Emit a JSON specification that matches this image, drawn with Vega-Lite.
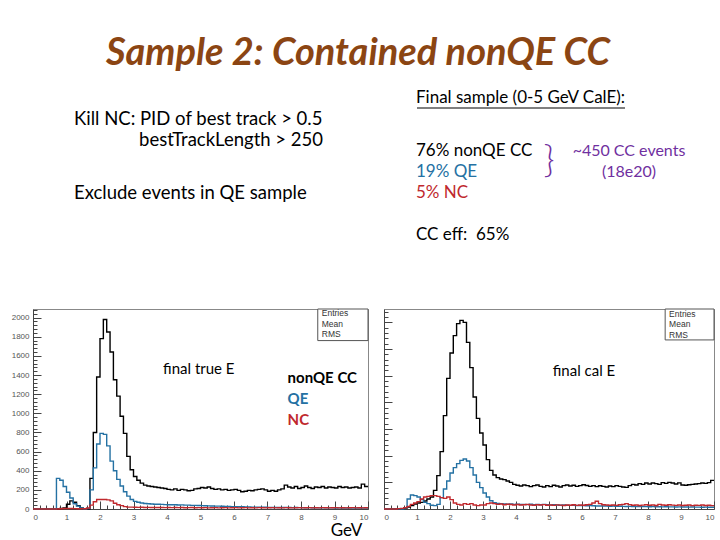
{
"$schema": "https://vega.github.io/schema/vega-lite/v6.json",
"background": "white",
"padding": {"left": 10, "top": 35, "right": 5, "bottom": 5},
"bounds": "flush",
"spacing": 74,
"config": {"font": "Lato", "view": {"stroke": "#888", "strokeWidth": 1}, "axis": {"labelFont": "Liberation Sans", "labelFontSize": 8, "labelColor": "#555", "domainColor": "#444", "tickColor": "#444", "grid": false}},
"title": {"text": "Sample 2: Contained nonQE CC", "font": "Lato", "fontSize": 38, "fontWeight": "bold", "fontStyle": "italic", "color": "#8B4513", "anchor": "middle", "dx": -6, "offset": 16},
"datasets": {
"slide": [
{"block":"cuts","part":"main","row":2,"kind":"text","text":"Kill NC: PID of best track > 0.5"},
{"block":"cuts","part":"cont","row":4,"kind":"text","text":"bestTrackLength > 250"},
{"block":"cuts","part":"main","row":9,"kind":"text","text":"Exclude events in QE sample"},
{"block":"sample","part":"head","row":0,"kind":"text","text":"Final sample (0-5 GeV CalE):"},
{"block":"sample","part":"main","row":5,"kind":"CC","text":"76% nonQE CC"},
{"block":"sample","part":"main","row":7,"kind":"QE","text":"19% QE"},
{"block":"sample","part":"main","row":9,"kind":"NC","text":"5% NC"},
{"block":"sample","part":"main","row":13,"kind":"text","text":"CC eff:\u00a0 65%"},
{"block":"sample","part":"brace","row":6,"kind":"note","text":"}"},
{"block":"sample","part":"note","row":5,"kind":"note","text":"~450 CC events"},
{"block":"sample","part":"note","row":7,"kind":"note","text":"(18e20)"}
],
"trueE": [
{"kind":"CC","E":0,"n":0},{"kind":"CC","E":0.1,"n":0},{"kind":"CC","E":0.2,"n":0},{"kind":"CC","E":0.3,"n":0},{"kind":"CC","E":0.4,"n":0},{"kind":"CC","E":0.5,"n":0},{"kind":"CC","E":0.6,"n":0},{"kind":"CC","E":0.7,"n":0},{"kind":"CC","E":0.8,"n":5},{"kind":"CC","E":0.9,"n":10},
{"kind":"CC","E":1.0,"n":50},{"kind":"CC","E":1.1,"n":85},{"kind":"CC","E":1.2,"n":70},{"kind":"CC","E":1.3,"n":35},{"kind":"CC","E":1.4,"n":10},{"kind":"CC","E":1.5,"n":0},{"kind":"CC","E":1.6,"n":0},{"kind":"CC","E":1.7,"n":320},{"kind":"CC","E":1.8,"n":800},{"kind":"CC","E":1.9,"n":1380},
{"kind":"CC","E":2.0,"n":1780},{"kind":"CC","E":2.1,"n":1980},{"kind":"CC","E":2.2,"n":1850},{"kind":"CC","E":2.3,"n":1640},{"kind":"CC","E":2.4,"n":1350},{"kind":"CC","E":2.5,"n":1180},{"kind":"CC","E":2.6,"n":970},{"kind":"CC","E":2.7,"n":790},{"kind":"CC","E":2.8,"n":550},{"kind":"CC","E":2.9,"n":410},
{"kind":"CC","E":3.0,"n":340},{"kind":"CC","E":3.1,"n":300},{"kind":"CC","E":3.2,"n":270},{"kind":"CC","E":3.3,"n":250},{"kind":"CC","E":3.4,"n":240},{"kind":"CC","E":3.5,"n":235},{"kind":"CC","E":3.6,"n":230},{"kind":"CC","E":3.7,"n":225},{"kind":"CC","E":3.8,"n":220},{"kind":"CC","E":3.9,"n":215},
{"kind":"CC","E":4.0,"n":205},{"kind":"CC","E":4.1,"n":200},{"kind":"CC","E":4.2,"n":210},{"kind":"CC","E":4.3,"n":195},{"kind":"CC","E":4.4,"n":205},{"kind":"CC","E":4.5,"n":200},{"kind":"CC","E":4.6,"n":190},{"kind":"CC","E":4.7,"n":195},{"kind":"CC","E":4.8,"n":210},{"kind":"CC","E":4.9,"n":215},
{"kind":"CC","E":5.0,"n":225},{"kind":"CC","E":5.1,"n":220},{"kind":"CC","E":5.2,"n":230},{"kind":"CC","E":5.3,"n":215},{"kind":"CC","E":5.4,"n":205},{"kind":"CC","E":5.5,"n":210},{"kind":"CC","E":5.6,"n":200},{"kind":"CC","E":5.7,"n":205},{"kind":"CC","E":5.8,"n":195},{"kind":"CC","E":5.9,"n":200},
{"kind":"CC","E":6.0,"n":205},{"kind":"CC","E":6.1,"n":195},{"kind":"CC","E":6.2,"n":180},{"kind":"CC","E":6.3,"n":185},{"kind":"CC","E":6.4,"n":195},{"kind":"CC","E":6.5,"n":190},{"kind":"CC","E":6.6,"n":200},{"kind":"CC","E":6.7,"n":205},{"kind":"CC","E":6.8,"n":210},{"kind":"CC","E":6.9,"n":200},
{"kind":"CC","E":7.0,"n":185},{"kind":"CC","E":7.1,"n":195},{"kind":"CC","E":7.2,"n":185},{"kind":"CC","E":7.3,"n":200},{"kind":"CC","E":7.4,"n":210},{"kind":"CC","E":7.5,"n":250},{"kind":"CC","E":7.6,"n":230},{"kind":"CC","E":7.7,"n":220},{"kind":"CC","E":7.8,"n":235},{"kind":"CC","E":7.9,"n":215},
{"kind":"CC","E":8.0,"n":225},{"kind":"CC","E":8.1,"n":240},{"kind":"CC","E":8.2,"n":225},{"kind":"CC","E":8.3,"n":215},{"kind":"CC","E":8.4,"n":230},{"kind":"CC","E":8.5,"n":225},{"kind":"CC","E":8.6,"n":235},{"kind":"CC","E":8.7,"n":220},{"kind":"CC","E":8.8,"n":230},{"kind":"CC","E":8.9,"n":225},
{"kind":"CC","E":9.0,"n":220},{"kind":"CC","E":9.1,"n":235},{"kind":"CC","E":9.2,"n":225},{"kind":"CC","E":9.3,"n":230},{"kind":"CC","E":9.4,"n":220},{"kind":"CC","E":9.5,"n":225},{"kind":"CC","E":9.6,"n":230},{"kind":"CC","E":9.7,"n":220},{"kind":"CC","E":9.8,"n":260},{"kind":"CC","E":9.9,"n":235},{"kind":"CC","E":10.0,"n":235},
{"kind":"QE","E":0,"n":0},{"kind":"QE","E":0.1,"n":0},{"kind":"QE","E":0.2,"n":0},{"kind":"QE","E":0.3,"n":0},{"kind":"QE","E":0.4,"n":0},{"kind":"QE","E":0.5,"n":0},{"kind":"QE","E":0.6,"n":0},{"kind":"QE","E":0.7,"n":320},{"kind":"QE","E":0.8,"n":300},{"kind":"QE","E":0.9,"n":235},
{"kind":"QE","E":1.0,"n":175},{"kind":"QE","E":1.1,"n":115},{"kind":"QE","E":1.2,"n":55},{"kind":"QE","E":1.3,"n":30},{"kind":"QE","E":1.4,"n":10},{"kind":"QE","E":1.5,"n":0},{"kind":"QE","E":1.6,"n":5},{"kind":"QE","E":1.7,"n":200},{"kind":"QE","E":1.8,"n":430},{"kind":"QE","E":1.9,"n":680},
{"kind":"QE","E":2.0,"n":790},{"kind":"QE","E":2.1,"n":780},{"kind":"QE","E":2.2,"n":660},{"kind":"QE","E":2.3,"n":500},{"kind":"QE","E":2.4,"n":400},{"kind":"QE","E":2.5,"n":310},{"kind":"QE","E":2.6,"n":240},{"kind":"QE","E":2.7,"n":180},{"kind":"QE","E":2.8,"n":135},{"kind":"QE","E":2.9,"n":100},
{"kind":"QE","E":3.0,"n":80},{"kind":"QE","E":3.1,"n":70},{"kind":"QE","E":3.2,"n":62},{"kind":"QE","E":3.3,"n":58},{"kind":"QE","E":3.4,"n":55},{"kind":"QE","E":3.5,"n":52},{"kind":"QE","E":3.6,"n":50},{"kind":"QE","E":3.7,"n":50},{"kind":"QE","E":3.8,"n":48},{"kind":"QE","E":3.9,"n":46},
{"kind":"QE","E":4.0,"n":45},{"kind":"QE","E":4.1,"n":44},{"kind":"QE","E":4.2,"n":45},{"kind":"QE","E":4.3,"n":42},{"kind":"QE","E":4.4,"n":43},{"kind":"QE","E":4.5,"n":40},{"kind":"QE","E":4.6,"n":40},{"kind":"QE","E":4.7,"n":38},{"kind":"QE","E":4.8,"n":38},{"kind":"QE","E":4.9,"n":36},
{"kind":"QE","E":5.0,"n":35},{"kind":"QE","E":5.1,"n":34},{"kind":"QE","E":5.2,"n":33},{"kind":"QE","E":5.3,"n":32},{"kind":"QE","E":5.4,"n":30},{"kind":"QE","E":5.5,"n":30},{"kind":"QE","E":5.6,"n":28},{"kind":"QE","E":5.7,"n":27},{"kind":"QE","E":5.8,"n":27},{"kind":"QE","E":5.9,"n":25},
{"kind":"QE","E":6.0,"n":25},{"kind":"QE","E":6.1,"n":23},{"kind":"QE","E":6.2,"n":24},{"kind":"QE","E":6.3,"n":22},{"kind":"QE","E":6.4,"n":22},{"kind":"QE","E":6.5,"n":20},{"kind":"QE","E":6.6,"n":20},{"kind":"QE","E":6.7,"n":19},{"kind":"QE","E":6.8,"n":18},{"kind":"QE","E":6.9,"n":18},
{"kind":"QE","E":7.0,"n":17},{"kind":"QE","E":7.1,"n":16},{"kind":"QE","E":7.2,"n":17},{"kind":"QE","E":7.3,"n":15},{"kind":"QE","E":7.4,"n":16},{"kind":"QE","E":7.5,"n":15},{"kind":"QE","E":7.6,"n":15},{"kind":"QE","E":7.7,"n":14},{"kind":"QE","E":7.8,"n":15},{"kind":"QE","E":7.9,"n":14},
{"kind":"QE","E":8.0,"n":14},{"kind":"QE","E":8.1,"n":13},{"kind":"QE","E":8.2,"n":14},{"kind":"QE","E":8.3,"n":13},{"kind":"QE","E":8.4,"n":13},{"kind":"QE","E":8.5,"n":12},{"kind":"QE","E":8.6,"n":13},{"kind":"QE","E":8.7,"n":12},{"kind":"QE","E":8.8,"n":12},{"kind":"QE","E":8.9,"n":12},
{"kind":"QE","E":9.0,"n":11},{"kind":"QE","E":9.1,"n":12},{"kind":"QE","E":9.2,"n":11},{"kind":"QE","E":9.3,"n":11},{"kind":"QE","E":9.4,"n":10},{"kind":"QE","E":9.5,"n":11},{"kind":"QE","E":9.6,"n":10},{"kind":"QE","E":9.7,"n":10},{"kind":"QE","E":9.8,"n":10},{"kind":"QE","E":9.9,"n":10},{"kind":"QE","E":10.0,"n":10},
{"kind":"NC","E":0,"n":0},{"kind":"NC","E":0.1,"n":0},{"kind":"NC","E":0.2,"n":0},{"kind":"NC","E":0.3,"n":0},{"kind":"NC","E":0.4,"n":0},{"kind":"NC","E":0.5,"n":0},{"kind":"NC","E":0.6,"n":0},{"kind":"NC","E":0.7,"n":0},{"kind":"NC","E":0.8,"n":3},{"kind":"NC","E":0.9,"n":5},
{"kind":"NC","E":1.0,"n":5},{"kind":"NC","E":1.1,"n":5},{"kind":"NC","E":1.2,"n":4},{"kind":"NC","E":1.3,"n":3},{"kind":"NC","E":1.4,"n":2},{"kind":"NC","E":1.5,"n":3},{"kind":"NC","E":1.6,"n":10},{"kind":"NC","E":1.7,"n":40},{"kind":"NC","E":1.8,"n":75},{"kind":"NC","E":1.9,"n":100},
{"kind":"NC","E":2.0,"n":100},{"kind":"NC","E":2.1,"n":100},{"kind":"NC","E":2.2,"n":95},{"kind":"NC","E":2.3,"n":85},{"kind":"NC","E":2.4,"n":60},{"kind":"NC","E":2.5,"n":45},{"kind":"NC","E":2.6,"n":35},{"kind":"NC","E":2.7,"n":25},{"kind":"NC","E":2.8,"n":20},{"kind":"NC","E":2.9,"n":20},
{"kind":"NC","E":3.0,"n":18},{"kind":"NC","E":3.1,"n":17},{"kind":"NC","E":3.2,"n":18},{"kind":"NC","E":3.3,"n":16},{"kind":"NC","E":3.4,"n":17},{"kind":"NC","E":3.5,"n":15},{"kind":"NC","E":3.6,"n":16},{"kind":"NC","E":3.7,"n":15},{"kind":"NC","E":3.8,"n":16},{"kind":"NC","E":3.9,"n":14},
{"kind":"NC","E":4.0,"n":15},{"kind":"NC","E":4.1,"n":14},{"kind":"NC","E":4.2,"n":15},{"kind":"NC","E":4.3,"n":14},{"kind":"NC","E":4.4,"n":15},{"kind":"NC","E":4.5,"n":13},{"kind":"NC","E":4.6,"n":14},{"kind":"NC","E":4.7,"n":15},{"kind":"NC","E":4.8,"n":13},{"kind":"NC","E":4.9,"n":14},
{"kind":"NC","E":5.0,"n":13},{"kind":"NC","E":5.1,"n":14},{"kind":"NC","E":5.2,"n":12},{"kind":"NC","E":5.3,"n":13},{"kind":"NC","E":5.4,"n":14},{"kind":"NC","E":5.5,"n":12},{"kind":"NC","E":5.6,"n":13},{"kind":"NC","E":5.7,"n":14},{"kind":"NC","E":5.8,"n":12},{"kind":"NC","E":5.9,"n":13},
{"kind":"NC","E":6.0,"n":14},{"kind":"NC","E":6.1,"n":12},{"kind":"NC","E":6.2,"n":13},{"kind":"NC","E":6.3,"n":14},{"kind":"NC","E":6.4,"n":12},{"kind":"NC","E":6.5,"n":13},{"kind":"NC","E":6.6,"n":12},{"kind":"NC","E":6.7,"n":14},{"kind":"NC","E":6.8,"n":13},{"kind":"NC","E":6.9,"n":12},
{"kind":"NC","E":7.0,"n":13},{"kind":"NC","E":7.1,"n":14},{"kind":"NC","E":7.2,"n":12},{"kind":"NC","E":7.3,"n":13},{"kind":"NC","E":7.4,"n":12},{"kind":"NC","E":7.5,"n":14},{"kind":"NC","E":7.6,"n":13},{"kind":"NC","E":7.7,"n":12},{"kind":"NC","E":7.8,"n":13},{"kind":"NC","E":7.9,"n":14},
{"kind":"NC","E":8.0,"n":12},{"kind":"NC","E":8.1,"n":13},{"kind":"NC","E":8.2,"n":14},{"kind":"NC","E":8.3,"n":12},{"kind":"NC","E":8.4,"n":13},{"kind":"NC","E":8.5,"n":12},{"kind":"NC","E":8.6,"n":14},{"kind":"NC","E":8.7,"n":13},{"kind":"NC","E":8.8,"n":12},{"kind":"NC","E":8.9,"n":13},
{"kind":"NC","E":9.0,"n":14},{"kind":"NC","E":9.1,"n":12},{"kind":"NC","E":9.2,"n":13},{"kind":"NC","E":9.3,"n":12},{"kind":"NC","E":9.4,"n":13},{"kind":"NC","E":9.5,"n":14},{"kind":"NC","E":9.6,"n":12},{"kind":"NC","E":9.7,"n":13},{"kind":"NC","E":9.8,"n":12},{"kind":"NC","E":9.9,"n":13},{"kind":"NC","E":10.0,"n":13}
],
"calE": [
{"kind":"CC","E":0,"n":0},{"kind":"CC","E":0.1,"n":0},{"kind":"CC","E":0.2,"n":0},{"kind":"CC","E":0.3,"n":0},{"kind":"CC","E":0.4,"n":0},{"kind":"CC","E":0.5,"n":3},{"kind":"CC","E":0.6,"n":8},{"kind":"CC","E":0.7,"n":15},{"kind":"CC","E":0.8,"n":25},{"kind":"CC","E":0.9,"n":38},
{"kind":"CC","E":1.0,"n":45},{"kind":"CC","E":1.1,"n":50},{"kind":"CC","E":1.2,"n":60},{"kind":"CC","E":1.3,"n":75},{"kind":"CC","E":1.4,"n":90},{"kind":"CC","E":1.5,"n":140},{"kind":"CC","E":1.6,"n":250},{"kind":"CC","E":1.7,"n":430},{"kind":"CC","E":1.8,"n":700},{"kind":"CC","E":1.9,"n":980},
{"kind":"CC","E":2.0,"n":1170},{"kind":"CC","E":2.1,"n":1300},{"kind":"CC","E":2.2,"n":1390},{"kind":"CC","E":2.3,"n":1415},{"kind":"CC","E":2.4,"n":1400},{"kind":"CC","E":2.5,"n":1250},{"kind":"CC","E":2.6,"n":1060},{"kind":"CC","E":2.7,"n":840},{"kind":"CC","E":2.8,"n":680},{"kind":"CC","E":2.9,"n":570},
{"kind":"CC","E":3.0,"n":480},{"kind":"CC","E":3.1,"n":370},{"kind":"CC","E":3.2,"n":290},{"kind":"CC","E":3.3,"n":255},{"kind":"CC","E":3.4,"n":235},{"kind":"CC","E":3.5,"n":225},{"kind":"CC","E":3.6,"n":220},{"kind":"CC","E":3.7,"n":210},{"kind":"CC","E":3.8,"n":200},{"kind":"CC","E":3.9,"n":185},
{"kind":"CC","E":4.0,"n":178},{"kind":"CC","E":4.1,"n":172},{"kind":"CC","E":4.2,"n":180},{"kind":"CC","E":4.3,"n":175},{"kind":"CC","E":4.4,"n":168},{"kind":"CC","E":4.5,"n":175},{"kind":"CC","E":4.6,"n":180},{"kind":"CC","E":4.7,"n":170},{"kind":"CC","E":4.8,"n":165},{"kind":"CC","E":4.9,"n":175},
{"kind":"CC","E":5.0,"n":168},{"kind":"CC","E":5.1,"n":178},{"kind":"CC","E":5.2,"n":172},{"kind":"CC","E":5.3,"n":165},{"kind":"CC","E":5.4,"n":175},{"kind":"CC","E":5.5,"n":180},{"kind":"CC","E":5.6,"n":172},{"kind":"CC","E":5.7,"n":178},{"kind":"CC","E":5.8,"n":170},{"kind":"CC","E":5.9,"n":175},
{"kind":"CC","E":6.0,"n":182},{"kind":"CC","E":6.1,"n":176},{"kind":"CC","E":6.2,"n":170},{"kind":"CC","E":6.3,"n":175},{"kind":"CC","E":6.4,"n":168},{"kind":"CC","E":6.5,"n":174},{"kind":"CC","E":6.6,"n":170},{"kind":"CC","E":6.7,"n":165},{"kind":"CC","E":6.8,"n":172},{"kind":"CC","E":6.9,"n":168},
{"kind":"CC","E":7.0,"n":175},{"kind":"CC","E":7.1,"n":170},{"kind":"CC","E":7.2,"n":165},{"kind":"CC","E":7.3,"n":162},{"kind":"CC","E":7.4,"n":175},{"kind":"CC","E":7.5,"n":185},{"kind":"CC","E":7.6,"n":180},{"kind":"CC","E":7.7,"n":190},{"kind":"CC","E":7.8,"n":185},{"kind":"CC","E":7.9,"n":195},
{"kind":"CC","E":8.0,"n":188},{"kind":"CC","E":8.1,"n":195},{"kind":"CC","E":8.2,"n":190},{"kind":"CC","E":8.3,"n":185},{"kind":"CC","E":8.4,"n":198},{"kind":"CC","E":8.5,"n":192},{"kind":"CC","E":8.6,"n":200},{"kind":"CC","E":8.7,"n":195},{"kind":"CC","E":8.8,"n":188},{"kind":"CC","E":8.9,"n":196},
{"kind":"CC","E":9.0,"n":180},{"kind":"CC","E":9.1,"n":178},{"kind":"CC","E":9.2,"n":182},{"kind":"CC","E":9.3,"n":185},{"kind":"CC","E":9.4,"n":188},{"kind":"CC","E":9.5,"n":190},{"kind":"CC","E":9.6,"n":195},{"kind":"CC","E":9.7,"n":192},{"kind":"CC","E":9.8,"n":198},{"kind":"CC","E":9.9,"n":215},{"kind":"CC","E":10.0,"n":215},
{"kind":"QE","E":0,"n":0},{"kind":"QE","E":0.1,"n":0},{"kind":"QE","E":0.2,"n":0},{"kind":"QE","E":0.3,"n":0},{"kind":"QE","E":0.4,"n":0},{"kind":"QE","E":0.5,"n":0},{"kind":"QE","E":0.6,"n":10},{"kind":"QE","E":0.7,"n":75},{"kind":"QE","E":0.8,"n":105},{"kind":"QE","E":0.9,"n":100},
{"kind":"QE","E":1.0,"n":90},{"kind":"QE","E":1.1,"n":70},{"kind":"QE","E":1.2,"n":50},{"kind":"QE","E":1.3,"n":40},{"kind":"QE","E":1.4,"n":28},{"kind":"QE","E":1.5,"n":25},{"kind":"QE","E":1.6,"n":35},{"kind":"QE","E":1.7,"n":85},{"kind":"QE","E":1.8,"n":150},{"kind":"QE","E":1.9,"n":210},
{"kind":"QE","E":2.0,"n":270},{"kind":"QE","E":2.1,"n":310},{"kind":"QE","E":2.2,"n":340},{"kind":"QE","E":2.3,"n":365},{"kind":"QE","E":2.4,"n":375},{"kind":"QE","E":2.5,"n":360},{"kind":"QE","E":2.6,"n":310},{"kind":"QE","E":2.7,"n":255},{"kind":"QE","E":2.8,"n":200},{"kind":"QE","E":2.9,"n":160},
{"kind":"QE","E":3.0,"n":120},{"kind":"QE","E":3.1,"n":90},{"kind":"QE","E":3.2,"n":62},{"kind":"QE","E":3.3,"n":48},{"kind":"QE","E":3.4,"n":42},{"kind":"QE","E":3.5,"n":40},{"kind":"QE","E":3.6,"n":38},{"kind":"QE","E":3.7,"n":36},{"kind":"QE","E":3.8,"n":38},{"kind":"QE","E":3.9,"n":35},
{"kind":"QE","E":4.0,"n":36},{"kind":"QE","E":4.1,"n":34},{"kind":"QE","E":4.2,"n":35},{"kind":"QE","E":4.3,"n":33},{"kind":"QE","E":4.4,"n":36},{"kind":"QE","E":4.5,"n":32},{"kind":"QE","E":4.6,"n":34},{"kind":"QE","E":4.7,"n":32},{"kind":"QE","E":4.8,"n":35},{"kind":"QE","E":4.9,"n":33},
{"kind":"QE","E":5.0,"n":30},{"kind":"QE","E":5.1,"n":32},{"kind":"QE","E":5.2,"n":30},{"kind":"QE","E":5.3,"n":28},{"kind":"QE","E":5.4,"n":30},{"kind":"QE","E":5.5,"n":28},{"kind":"QE","E":5.6,"n":27},{"kind":"QE","E":5.7,"n":28},{"kind":"QE","E":5.8,"n":26},{"kind":"QE","E":5.9,"n":25},
{"kind":"QE","E":6.0,"n":26},{"kind":"QE","E":6.1,"n":24},{"kind":"QE","E":6.2,"n":25},{"kind":"QE","E":6.3,"n":24},{"kind":"QE","E":6.4,"n":23},{"kind":"QE","E":6.5,"n":22},{"kind":"QE","E":6.6,"n":23},{"kind":"QE","E":6.7,"n":22},{"kind":"QE","E":6.8,"n":21},{"kind":"QE","E":6.9,"n":22},
{"kind":"QE","E":7.0,"n":20},{"kind":"QE","E":7.1,"n":21},{"kind":"QE","E":7.2,"n":20},{"kind":"QE","E":7.3,"n":19},{"kind":"QE","E":7.4,"n":20},{"kind":"QE","E":7.5,"n":19},{"kind":"QE","E":7.6,"n":18},{"kind":"QE","E":7.7,"n":19},{"kind":"QE","E":7.8,"n":18},{"kind":"QE","E":7.9,"n":18},
{"kind":"QE","E":8.0,"n":17},{"kind":"QE","E":8.1,"n":18},{"kind":"QE","E":8.2,"n":17},{"kind":"QE","E":8.3,"n":17},{"kind":"QE","E":8.4,"n":16},{"kind":"QE","E":8.5,"n":17},{"kind":"QE","E":8.6,"n":16},{"kind":"QE","E":8.7,"n":16},{"kind":"QE","E":8.8,"n":15},{"kind":"QE","E":8.9,"n":16},
{"kind":"QE","E":9.0,"n":15},{"kind":"QE","E":9.1,"n":15},{"kind":"QE","E":9.2,"n":14},{"kind":"QE","E":9.3,"n":15},{"kind":"QE","E":9.4,"n":14},{"kind":"QE","E":9.5,"n":14},{"kind":"QE","E":9.6,"n":13},{"kind":"QE","E":9.7,"n":14},{"kind":"QE","E":9.8,"n":13},{"kind":"QE","E":9.9,"n":13},{"kind":"QE","E":10.0,"n":13},
{"kind":"NC","E":0,"n":0},{"kind":"NC","E":0.1,"n":0},{"kind":"NC","E":0.2,"n":0},{"kind":"NC","E":0.3,"n":0},{"kind":"NC","E":0.4,"n":3},{"kind":"NC","E":0.5,"n":5},{"kind":"NC","E":0.6,"n":10},{"kind":"NC","E":0.7,"n":20},{"kind":"NC","E":0.8,"n":35},{"kind":"NC","E":0.9,"n":45},
{"kind":"NC","E":1.0,"n":55},{"kind":"NC","E":1.1,"n":75},{"kind":"NC","E":1.2,"n":90},{"kind":"NC","E":1.3,"n":95},{"kind":"NC","E":1.4,"n":100},{"kind":"NC","E":1.5,"n":100},{"kind":"NC","E":1.6,"n":95},{"kind":"NC","E":1.7,"n":85},{"kind":"NC","E":1.8,"n":80},{"kind":"NC","E":1.9,"n":90},
{"kind":"NC","E":2.0,"n":70},{"kind":"NC","E":2.1,"n":45},{"kind":"NC","E":2.2,"n":35},{"kind":"NC","E":2.3,"n":30},{"kind":"NC","E":2.4,"n":40},{"kind":"NC","E":2.5,"n":35},{"kind":"NC","E":2.6,"n":40},{"kind":"NC","E":2.7,"n":30},{"kind":"NC","E":2.8,"n":25},{"kind":"NC","E":2.9,"n":30},
{"kind":"NC","E":3.0,"n":30},{"kind":"NC","E":3.1,"n":40},{"kind":"NC","E":3.2,"n":45},{"kind":"NC","E":3.3,"n":40},{"kind":"NC","E":3.4,"n":35},{"kind":"NC","E":3.5,"n":38},{"kind":"NC","E":3.6,"n":32},{"kind":"NC","E":3.7,"n":36},{"kind":"NC","E":3.8,"n":34},{"kind":"NC","E":3.9,"n":30},
{"kind":"NC","E":4.0,"n":34},{"kind":"NC","E":4.1,"n":30},{"kind":"NC","E":4.2,"n":32},{"kind":"NC","E":4.3,"n":35},{"kind":"NC","E":4.4,"n":30},{"kind":"NC","E":4.5,"n":28},{"kind":"NC","E":4.6,"n":32},{"kind":"NC","E":4.7,"n":30},{"kind":"NC","E":4.8,"n":33},{"kind":"NC","E":4.9,"n":28},
{"kind":"NC","E":5.0,"n":30},{"kind":"NC","E":5.1,"n":27},{"kind":"NC","E":5.2,"n":31},{"kind":"NC","E":5.3,"n":29},{"kind":"NC","E":5.4,"n":26},{"kind":"NC","E":5.5,"n":30},{"kind":"NC","E":5.6,"n":28},{"kind":"NC","E":5.7,"n":32},{"kind":"NC","E":5.8,"n":27},{"kind":"NC","E":5.9,"n":30},
{"kind":"NC","E":6.0,"n":28},{"kind":"NC","E":6.1,"n":32},{"kind":"NC","E":6.2,"n":35},{"kind":"NC","E":6.3,"n":45},{"kind":"NC","E":6.4,"n":58},{"kind":"NC","E":6.5,"n":40},{"kind":"NC","E":6.6,"n":32},{"kind":"NC","E":6.7,"n":30},{"kind":"NC","E":6.8,"n":28},{"kind":"NC","E":6.9,"n":30},
{"kind":"NC","E":7.0,"n":27},{"kind":"NC","E":7.1,"n":32},{"kind":"NC","E":7.2,"n":35},{"kind":"NC","E":7.3,"n":40},{"kind":"NC","E":7.4,"n":33},{"kind":"NC","E":7.5,"n":28},{"kind":"NC","E":7.6,"n":30},{"kind":"NC","E":7.7,"n":26},{"kind":"NC","E":7.8,"n":29},{"kind":"NC","E":7.9,"n":32},
{"kind":"NC","E":8.0,"n":28},{"kind":"NC","E":8.1,"n":30},{"kind":"NC","E":8.2,"n":26},{"kind":"NC","E":8.3,"n":35},{"kind":"NC","E":8.4,"n":30},{"kind":"NC","E":8.5,"n":28},{"kind":"NC","E":8.6,"n":32},{"kind":"NC","E":8.7,"n":29},{"kind":"NC","E":8.8,"n":27},{"kind":"NC","E":8.9,"n":30},
{"kind":"NC","E":9.0,"n":26},{"kind":"NC","E":9.1,"n":28},{"kind":"NC","E":9.2,"n":30},{"kind":"NC","E":9.3,"n":25},{"kind":"NC","E":9.4,"n":28},{"kind":"NC","E":9.5,"n":27},{"kind":"NC","E":9.6,"n":30},{"kind":"NC","E":9.7,"n":26},{"kind":"NC","E":9.8,"n":28},{"kind":"NC","E":9.9,"n":25},{"kind":"NC","E":10.0,"n":25}
]
},
"vconcat": [
{
"width": 681, "height": 136.5,
"view": {"stroke": null},
"data": {"name": "slide"},
"encoding": {
"x": {"field": "block", "type": "nominal", "scale": {"type": "point", "domain": ["cuts", "sample"], "range": [41, 383], "padding": 0}, "axis": null},
"y": {"field": "row", "type": "quantitative", "scale": {"domain": [0, 13], "reverse": true, "nice": false, "zero": false}, "axis": null},
"color": {"field": "kind", "type": "nominal", "scale": {"domain": ["text", "CC", "QE", "NC", "note"], "range": ["#000000", "#000000", "#2471a3", "#c0282d", "#7030a0"]}, "legend": null},
"text": {"field": "text"}
},
"layer": [
{"transform": [{"filter": "datum.block == 'cuts' && datum.part == 'main'"}], "mark": {"type": "text", "align": "left", "baseline": "middle", "fontSize": 18.5}},
{"transform": [{"filter": "datum.part == 'cont'"}], "mark": {"type": "text", "align": "right", "baseline": "middle", "fontSize": 18.5, "dx": 249}},
{"transform": [{"filter": "datum.block == 'sample' && (datum.part == 'main' || datum.part == 'head')"}], "mark": {"type": "text", "align": "left", "baseline": "middle", "fontSize": 17}},
{"transform": [{"filter": "datum.part == 'head'"}], "mark": {"type": "tick", "orient": "horizontal", "size": 208, "thickness": 1.2, "xOffset": 105, "yOffset": 10, "opacity": 1, "color": "#000"}},
{"transform": [{"filter": "datum.part == 'brace'"}], "mark": {"type": "text", "align": "center", "baseline": "middle", "fontSize": 38, "fontWeight": 300, "dx": 133}},
{"transform": [{"filter": "datum.part == 'note'"}], "mark": {"type": "text", "align": "center", "baseline": "middle", "fontSize": 16, "dx": 213}}
]
},
{
"hconcat": [
{
"width": 335, "height": 200,
"resolve": {"axis": {"x": "independent", "y": "independent"}},
"layer": [
{"data": {"name": "trueE"},
"mark": {"type": "line", "interpolate": "step-after", "strokeWidth": 1.4},
"encoding": {
"x": {"field": "E", "type": "quantitative", "scale": {"domain": [0, 10], "nice": false}, "axis": {"values": [0,1,2,3,4,5,6,7,8,9,10], "format": "d", "tickSize": -8, "labelPadding": 12, "title": "GeV", "titleFont": "Lato", "titleFontSize": 17, "titleFontWeight": "normal", "titleColor": "#000", "titleX": 313, "titleY": 21, "titleAlign": "center", "titleBaseline": "middle"}},
"y": {"field": "n", "type": "quantitative", "scale": {"domain": [0, 2090], "nice": false}, "axis": {"values": [0,200,400,600,800,1000,1200,1400,1600,1800,2000], "format": "d", "tickSize": -8, "labelPadding": 12, "title": null}},
"color": {"field": "kind", "type": "nominal", "scale": {"domain": ["CC", "QE", "NC"], "range": ["#111111", "#2a2ab5", "#e03333"]}, "legend": null}
}},
{"data": {"values": [{}]},
"mark": {"type": "point", "opacity": 0},
"encoding": {
"x": {"datum": 5, "type": "quantitative", "axis": {"orient": "bottom", "values": [0.2,0.4,0.6,0.8,1.2,1.4,1.6,1.8,2.2,2.4,2.6,2.8,3.2,3.4,3.6,3.8,4.2,4.4,4.6,4.8,5.2,5.4,5.6,5.8,6.2,6.4,6.6,6.8,7.2,7.4,7.6,7.8,8.2,8.4,8.6,8.8,9.2,9.4,9.6,9.8], "tickSize": -4, "labels": false, "domain": false, "title": null}},
"y": {"datum": 1000, "type": "quantitative", "axis": {"orient": "left", "values": [40,80,120,160,240,280,320,360,440,480,520,560,640,680,720,760,840,880,920,960,1040,1080,1120,1160,1240,1280,1320,1360,1440,1480,1520,1560,1640,1680,1720,1760,1840,1880,1920,1960,2040,2080], "tickSize": -4, "labels": false, "domain": false, "title": null}}
}},
{"data": {"values": [{}]},
"mark": {"type": "rect", "fill": "white", "stroke": "#555", "strokeWidth": 1},
"encoding": {"x": {"datum": 8.5, "axis": null}, "x2": {"datum": 10}, "y": {"datum": 1760, "axis": null}, "y2": {"datum": 2090}}},
{"data": {"values": [{}]},
"mark": {"type": "text", "align": "left", "baseline": "top", "font": "Liberation Sans", "fontSize": 8.5, "lineHeight": 10.5, "color": "#333"},
"encoding": {"x": {"datum": 8.62, "axis": null}, "y": {"datum": 2085, "axis": null}, "text": {"value": ["Entries", "Mean", "RMS"]}}},
{"data": {"values": [{}]},
"mark": {"type": "text", "align": "center", "baseline": "middle", "fontSize": 15, "color": "#000"},
"encoding": {"x": {"datum": 4.95, "axis": null}, "y": {"datum": 1460, "axis": null}, "text": {"value": "final true E"}}},
{"data": {"values": [{}]},
"mark": {"type": "text", "align": "left", "baseline": "middle", "fontSize": 15, "fontWeight": "bold", "color": "#000"},
"encoding": {"x": {"datum": 7.6, "axis": null}, "y": {"datum": 1365, "axis": null}, "text": {"value": "nonQE CC"}}},
{"data": {"values": [{}]},
"mark": {"type": "text", "align": "left", "baseline": "middle", "fontSize": 15, "fontWeight": "bold", "color": "#2471a3"},
"encoding": {"x": {"datum": 7.6, "axis": null}, "y": {"datum": 1145, "axis": null}, "text": {"value": "QE"}}},
{"data": {"values": [{}]},
"mark": {"type": "text", "align": "left", "baseline": "middle", "fontSize": 15, "fontWeight": "bold", "color": "#c0282d"},
"encoding": {"x": {"datum": 7.6, "axis": null}, "y": {"datum": 925, "axis": null}, "text": {"value": "NC"}}}
]
},
{
"width": 330, "height": 200,
"resolve": {"axis": {"x": "independent", "y": "independent"}},
"layer": [
{"data": {"name": "calE"},
"mark": {"type": "line", "interpolate": "step-after", "strokeWidth": 1.4},
"encoding": {
"x": {"field": "E", "type": "quantitative", "scale": {"domain": [0, 10], "nice": false}, "axis": {"values": [0,1,2,3,4,5,6,7,8,9,10], "format": "d", "tickSize": -8, "labelPadding": 12, "title": null}},
"y": {"field": "n", "type": "quantitative", "scale": {"domain": [0, 1500], "nice": false}, "axis": {"values": [0,200,400,600,800,1000,1200,1400], "tickSize": -8, "labels": false, "title": null}},
"color": {"field": "kind", "type": "nominal", "scale": {"domain": ["CC", "QE", "NC"], "range": ["#111111", "#2a2ab5", "#e03333"]}, "legend": null}
}},
{"data": {"values": [{}]},
"mark": {"type": "point", "opacity": 0},
"encoding": {
"x": {"datum": 5, "type": "quantitative", "axis": {"orient": "bottom", "values": [0.2,0.4,0.6,0.8,1.2,1.4,1.6,1.8,2.2,2.4,2.6,2.8,3.2,3.4,3.6,3.8,4.2,4.4,4.6,4.8,5.2,5.4,5.6,5.8,6.2,6.4,6.6,6.8,7.2,7.4,7.6,7.8,8.2,8.4,8.6,8.8,9.2,9.4,9.6,9.8], "tickSize": -4, "labels": false, "domain": false, "title": null}},
"y": {"datum": 700, "type": "quantitative", "axis": {"orient": "left", "values": [40,80,120,160,240,280,320,360,440,480,520,560,640,680,720,760,840,880,920,960,1040,1080,1120,1160,1240,1280,1320,1360,1440,1480], "tickSize": -4, "labels": false, "domain": false, "title": null}}
}},
{"data": {"values": [{}]},
"mark": {"type": "rect", "fill": "white", "stroke": "#555", "strokeWidth": 1},
"encoding": {"x": {"datum": 8.52, "axis": null}, "x2": {"datum": 10}, "y": {"datum": 1268, "axis": null}, "y2": {"datum": 1500}}},
{"data": {"values": [{}]},
"mark": {"type": "text", "align": "left", "baseline": "top", "font": "Liberation Sans", "fontSize": 8.5, "lineHeight": 10.5, "color": "#333"},
"encoding": {"x": {"datum": 8.64, "axis": null}, "y": {"datum": 1495, "axis": null}, "text": {"value": ["Entries", "Mean", "RMS"]}}},
{"data": {"values": [{}]},
"mark": {"type": "text", "align": "center", "baseline": "middle", "fontSize": 15, "color": "#000"},
"encoding": {"x": {"datum": 6.06, "axis": null}, "y": {"datum": 1034, "axis": null}, "text": {"value": "final cal E"}}}
]
}
],
"spacing": 16,
"bounds": "flush"
}
]
}
